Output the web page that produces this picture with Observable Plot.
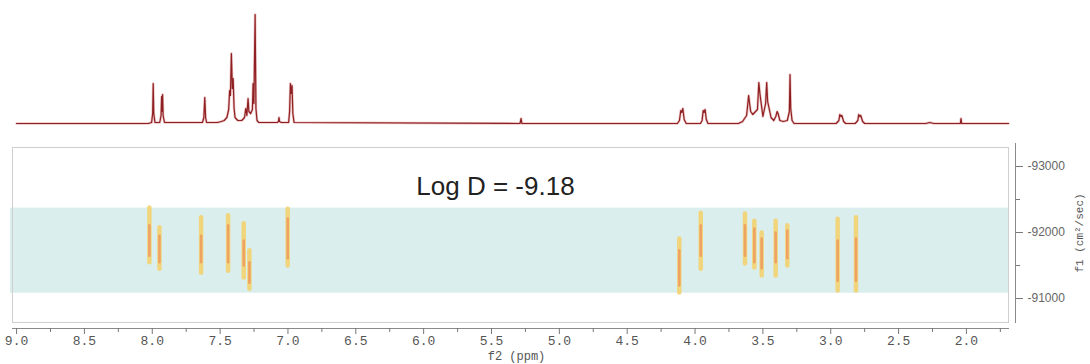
<!DOCTYPE html>
<html>
<head>
<meta charset="utf-8">
<script src="https://cdn.jsdelivr.net/npm/d3@7"></script>
<script src="https://cdn.jsdelivr.net/npm/@observablehq/plot@0.6"></script>
<style>
  html, body { margin: 0; padding: 0; background: #fff; }
  #chart { width: 1090px; height: 364px; overflow: hidden; }
  #chart svg { display: block; }
</style>
</head>
<body>
<div id="chart"></div>
<script>
// ---- data ----
const shiftDomain = [9.03, 1.69];               // f2 (ppm), left to right
const dDomain = [-90546, -93288];               // f1 (cm²/sec), bottom to top
const xMajorTicks = [9.0, 8.5, 8.0, 7.5, 7.0, 6.5, 6.0, 5.5, 5.0, 4.5, 4.0, 3.5, 3.0, 2.5, 2.0];
const xMinorTicks = [8.75, 8.25, 7.75, 7.25, 6.75, 6.25, 5.75, 5.25, 4.75, 4.25, 3.75, 3.25, 2.75, 2.25, 1.75];
const yMajorTicks = [-93000, -92000, -91000];
const yMinorTicks = [-92500, -91500];
const logDLabel = "Log D = -9.18";
const bandRange = [-92370, -91080];

// 1H spectrum trace: [ppm, intensity]
const spectrum = [
  [9.00,0],[8.03,0],[8.005,1],[7.997,10],[7.993,40],[7.989,10],[7.98,1],
  [7.945,1],[7.935,8],[7.931,27],[7.927,12],[7.924,29],[7.92,8],[7.91,1],
  [7.63,1],[7.62,6],[7.613,26],[7.607,6],[7.60,1],
  [7.52,1],[7.49,2],[7.47,3],[7.45,6],[7.437,14],[7.43,33],[7.424,28],[7.417,70],[7.41,35],[7.404,45],
  [7.397,15],[7.39,6],[7.37,3],[7.34,3],[7.32,6],[7.311,15],[7.303,8],[7.294,25],[7.288,12],[7.275,10],
  [7.262,14],[7.257,40],[7.251,20],[7.242,109],[7.236,15],[7.228,3],[7.215,1],
  [7.08,1],[7.07,2],[7.066,6],[7.062,2],[7.05,1],
  [6.995,1],[6.988,12],[6.982,40],[6.976,30],[6.970,38],[6.964,10],[6.955,1],
  [5.29,0],[5.282,5],[5.276,0],
  [4.13,0],[4.115,3],[4.105,13],[4.098,11],[4.09,15],[4.08,4],[4.065,0],
  [3.96,0],[3.948,3],[3.94,13],[3.934,11],[3.926,14],[3.917,4],[3.905,0],
  [3.68,0],[3.65,2],[3.62,8],[3.605,28],[3.598,20],[3.59,12],[3.575,9],[3.54,14],[3.53,41],[3.522,30],
  [3.50,7],[3.48,20],[3.472,41],[3.465,22],[3.44,6],[3.42,3],[3.405,7],[3.395,12],[3.388,10],[3.375,3],
  [3.35,2],[3.32,3],[3.305,12],[3.30,49],[3.295,15],[3.285,3],[3.27,0],
  [2.96,0],[2.94,3],[2.933,9],[2.925,7],[2.918,8],[2.905,2],[2.89,0],
  [2.82,0],[2.80,3],[2.794,9],[2.786,7],[2.779,8],[2.765,2],[2.75,0],
  [2.30,0],[2.27,1],[2.24,0],
  [2.045,0],[2.04,5],[2.035,0],
  [1.69,0]
];

// DOSY cross peaks
const blobShift = [8.021, 7.947, 7.64, 7.441, 7.326, 7.284, 7.002, 4.116, 3.958, 3.632, 3.563, 3.509, 3.406, 3.32, 2.949, 2.814];
const blobLow   = [-92380, -92080, -92230, -92260, -92140, -91730, -92360, -91910, -92300, -92290, -92180, -92000, -92180, -92110, -92210, -92230];
const blobHigh  = [-91550, -91450, -91390, -91420, -91320, -91150, -91500, -91090, -91450, -91530, -91470, -91350, -91350, -91500, -91120, -91120];
const coreLow   = [-92110, -91950, -91950, -92110, -91880, -91550, -92210, -91730, -92110, -92110, -92060, -91910, -92000, -92030, -91880, -91910];
const coreHigh  = [-91650, -91550, -91550, -91550, -91500, -91240, -91610, -91200, -91650, -91650, -91550, -91460, -91550, -91610, -91270, -91270];

(function () {
const blobs = blobShift.map((s, i) => ({shift: s, low: blobLow[i], high: blobHigh[i], c1: coreLow[i], c2: coreHigh[i]}));

// ---- top: 1D spectrum ----
const specPlot = Plot.plot({
  width: 1090, height: 140,
  marginLeft: 12, marginRight: 82, marginTop: 14, marginBottom: 17,
  x: {domain: shiftDomain, axis: null, label: null},
  y: {domain: [0, 109], axis: null, label: null},
  marks: [
    Plot.line(spectrum, {x: d => d[0], y: d => d[1], stroke: "#e2a9a9", strokeWidth: 2.6, strokeOpacity: 0.7}),
    Plot.line(spectrum, {x: d => d[0], y: d => d[1], stroke: "#8e1f22", strokeWidth: 1.2})
  ]
});

// ---- bottom: DOSY map ----
const dosyPlot = Plot.plot({
  width: 1090, height: 224,
  marginLeft: 12, marginRight: 82, marginTop: 7, marginBottom: 36,
  style: {fontFamily: "Liberation Mono", fontSize: "12px", color: "#555"},
  x: {domain: shiftDomain, axis: null, label: null},
  y: {domain: dDomain, axis: null, label: null},
  marks: [
    Plot.rect([bandRange], {y1: d => d[0], y2: d => d[1], fill: "#dbeeee", insetLeft: -2}),
    Plot.link(blobs, {x1: "shift", x2: "shift", y1: "low", y2: "high", stroke: "#f3d370", strokeWidth: 4.5, strokeLinecap: "round", strokeOpacity: 0.9}),
    Plot.link(blobs, {x1: "shift", x2: "shift", y1: "c1", y2: "c2", stroke: "#ee9a5e", strokeWidth: 2.6, strokeLinecap: "round", strokeOpacity: 0.85}),
    Plot.frame({stroke: "#cfcfcf", insetBottom: 6}),
    Plot.frame({anchor: "bottom", stroke: "#8a8a8a"}),
    Plot.axisX({ticks: xMinorTicks, tickSize: 4, tickFormat: () => "", stroke: "#777", label: null}),
    Plot.axisX({ticks: xMajorTicks, tickSize: 6, tickPadding: 1, tickFormat: d3.format(".1f"), stroke: "#777", fill: "#555", fontSize: 13, fontFamily: "Liberation Mono", label: null}),
    Plot.frame({anchor: "right", stroke: "#8a8a8a", dx: 7, insetTop: -4, insetBottom: 6}),
    Plot.axisY({anchor: "right", ticks: yMinorTicks, tickSize: 4, dx: 7, tickFormat: () => "", stroke: "#777", label: null}),
    Plot.axisY({anchor: "right", ticks: yMajorTicks, tickSize: 7, dx: 7, tickPadding: 5, tickFormat: d => String(d), stroke: "#777", fill: "#666", fontSize: 12, fontFamily: "Liberation Sans", label: null}),
    Plot.text([logDLabel], {text: d => d, frameAnchor: "top", dx: -15, dy: 39, lineAnchor: "middle", fontSize: 26, fontFamily: "Liberation Sans", fill: "#222"}),
    Plot.text(["f2 (ppm)"], {text: d => d, frameAnchor: "bottom", dx: 6, dy: 28, lineAnchor: "middle", textAnchor: "middle", fontSize: 12, fontFamily: "Liberation Mono", fill: "#555"}),
    Plot.text(["f1 (cm²/sec)"], {text: d => d, frameAnchor: "right", dx: 71, dy: -5, rotate: -90, lineAnchor: "middle", textAnchor: "middle", fontSize: 11, fontFamily: "Liberation Mono", fill: "#555"})
  ]
});

// soften the cross peaks a little, like a contour rendering
const svg = d3.select(dosyPlot);
svg.insert("defs", ":first-child")
  .append("filter").attr("id", "soft").attr("x", "-50%").attr("y", "-10%").attr("width", "200%").attr("height", "120%")
  .append("feGaussianBlur").attr("stdDeviation", 0.7);
svg.selectAll("g[aria-label=link]").attr("filter", "url(#soft)");

const chart = document.getElementById("chart");
chart.appendChild(specPlot);
chart.appendChild(dosyPlot);
})();
</script>
</body>
</html>
